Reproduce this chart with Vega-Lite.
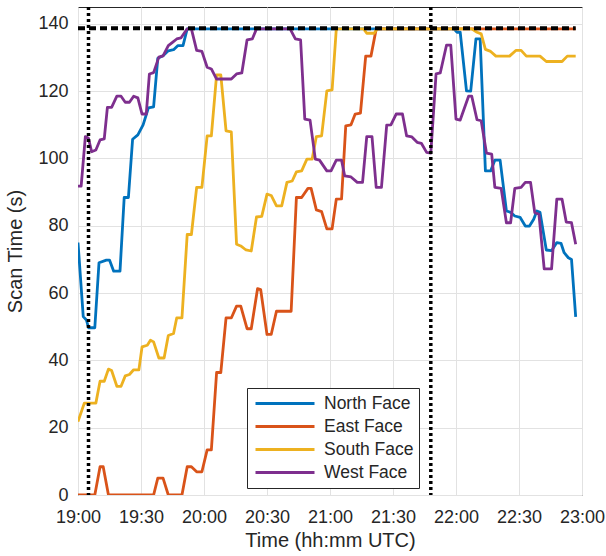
{
  "$schema": "https://vega.github.io/schema/vega-lite/v6.json",
  "width": 504,
  "height": 488,
  "autosize": "none",
  "padding": {"left": 78, "top": 7, "right": 24, "bottom": 61},
  "background": "white",
  "config": {
    "font": "Liberation Sans",
    "view": {"stroke": "#262626", "strokeWidth": 1},
    "axis": {
      "labelFont": "Liberation Sans",
      "titleFont": "Liberation Sans",
      "labelFontSize": 18,
      "titleFontSize": 20,
      "titleFontWeight": "normal",
      "labelColor": "#262626",
      "titleColor": "#262626",
      "gridColor": "#e2e2e2",
      "gridWidth": 1,
      "domain": false,
      "ticks": false
    },
    "legend": {
      "labelFont": "Liberation Sans",
      "labelFontSize": 17.5,
      "labelColor": "#262626"
    }
  },
  "datasets": {
    "series": [
      {"face": "North Face", "time": "2000-01-01T19:00:00", "scan": 75},
      {"face": "North Face", "time": "2000-01-01T19:02:30", "scan": 53},
      {"face": "North Face", "time": "2000-01-01T19:04:00", "scan": 52},
      {"face": "North Face", "time": "2000-01-01T19:05:00", "scan": 49.7},
      {"face": "North Face", "time": "2000-01-01T19:08:00", "scan": 49.7},
      {"face": "North Face", "time": "2000-01-01T19:10:00", "scan": 69},
      {"face": "North Face", "time": "2000-01-01T19:13:30", "scan": 69.8},
      {"face": "North Face", "time": "2000-01-01T19:15:00", "scan": 69.8},
      {"face": "North Face", "time": "2000-01-01T19:17:00", "scan": 66.5},
      {"face": "North Face", "time": "2000-01-01T19:20:00", "scan": 66.5},
      {"face": "North Face", "time": "2000-01-01T19:22:00", "scan": 88.4},
      {"face": "North Face", "time": "2000-01-01T19:24:00", "scan": 88.4},
      {"face": "North Face", "time": "2000-01-01T19:26:00", "scan": 105.7},
      {"face": "North Face", "time": "2000-01-01T19:28:30", "scan": 107},
      {"face": "North Face", "time": "2000-01-01T19:31:00", "scan": 110},
      {"face": "North Face", "time": "2000-01-01T19:33:30", "scan": 115},
      {"face": "North Face", "time": "2000-01-01T19:36:00", "scan": 115.3},
      {"face": "North Face", "time": "2000-01-01T19:38:00", "scan": 129.8},
      {"face": "North Face", "time": "2000-01-01T19:40:30", "scan": 130.5},
      {"face": "North Face", "time": "2000-01-01T19:43:00", "scan": 132},
      {"face": "North Face", "time": "2000-01-01T19:45:30", "scan": 132.3},
      {"face": "North Face", "time": "2000-01-01T19:47:30", "scan": 133.5},
      {"face": "North Face", "time": "2000-01-01T19:50:00", "scan": 133.5},
      {"face": "North Face", "time": "2000-01-01T19:52:00", "scan": 138.5},
      {"face": "North Face", "time": "2000-01-01T21:59:00", "scan": 138.5},
      {"face": "North Face", "time": "2000-01-01T22:00:30", "scan": 137.5},
      {"face": "North Face", "time": "2000-01-01T22:02:00", "scan": 137.5},
      {"face": "North Face", "time": "2000-01-01T22:05:00", "scan": 120.1},
      {"face": "North Face", "time": "2000-01-01T22:07:00", "scan": 120},
      {"face": "North Face", "time": "2000-01-01T22:09:30", "scan": 135.5},
      {"face": "North Face", "time": "2000-01-01T22:11:30", "scan": 135.5},
      {"face": "North Face", "time": "2000-01-01T22:14:00", "scan": 96.3},
      {"face": "North Face", "time": "2000-01-01T22:16:30", "scan": 96.3},
      {"face": "North Face", "time": "2000-01-01T22:18:30", "scan": 99.5},
      {"face": "North Face", "time": "2000-01-01T22:21:00", "scan": 99.5},
      {"face": "North Face", "time": "2000-01-01T22:24:00", "scan": 84.4},
      {"face": "North Face", "time": "2000-01-01T22:26:00", "scan": 84},
      {"face": "North Face", "time": "2000-01-01T22:28:00", "scan": 82.9},
      {"face": "North Face", "time": "2000-01-01T22:30:30", "scan": 82.5},
      {"face": "North Face", "time": "2000-01-01T22:33:00", "scan": 79.9},
      {"face": "North Face", "time": "2000-01-01T22:35:00", "scan": 79.9},
      {"face": "North Face", "time": "2000-01-01T22:37:00", "scan": 81.9},
      {"face": "North Face", "time": "2000-01-01T22:38:30", "scan": 84.4},
      {"face": "North Face", "time": "2000-01-01T22:40:00", "scan": 84},
      {"face": "North Face", "time": "2000-01-01T22:43:00", "scan": 72.8},
      {"face": "North Face", "time": "2000-01-01T22:45:30", "scan": 72.6},
      {"face": "North Face", "time": "2000-01-01T22:48:00", "scan": 75},
      {"face": "North Face", "time": "2000-01-01T22:50:00", "scan": 74.8},
      {"face": "North Face", "time": "2000-01-01T22:51:30", "scan": 72},
      {"face": "North Face", "time": "2000-01-01T22:53:30", "scan": 70.5},
      {"face": "North Face", "time": "2000-01-01T22:55:00", "scan": 70},
      {"face": "North Face", "time": "2000-01-01T22:57:00", "scan": 52.9},

      {"face": "East Face", "time": "2000-01-01T19:00:00", "scan": 0},
      {"face": "East Face", "time": "2000-01-01T19:08:00", "scan": 0},
      {"face": "East Face", "time": "2000-01-01T19:10:30", "scan": 8.4},
      {"face": "East Face", "time": "2000-01-01T19:12:00", "scan": 8.4},
      {"face": "East Face", "time": "2000-01-01T19:14:30", "scan": 0},
      {"face": "East Face", "time": "2000-01-01T19:36:00", "scan": 0},
      {"face": "East Face", "time": "2000-01-01T19:38:00", "scan": 5},
      {"face": "East Face", "time": "2000-01-01T19:40:30", "scan": 5},
      {"face": "East Face", "time": "2000-01-01T19:43:00", "scan": 0},
      {"face": "East Face", "time": "2000-01-01T19:49:30", "scan": 0},
      {"face": "East Face", "time": "2000-01-01T19:52:00", "scan": 8.4},
      {"face": "East Face", "time": "2000-01-01T19:54:00", "scan": 8.4},
      {"face": "East Face", "time": "2000-01-01T19:56:30", "scan": 6.9},
      {"face": "East Face", "time": "2000-01-01T19:59:00", "scan": 6.9},
      {"face": "East Face", "time": "2000-01-01T20:01:30", "scan": 13.4},
      {"face": "East Face", "time": "2000-01-01T20:03:30", "scan": 13.4},
      {"face": "East Face", "time": "2000-01-01T20:06:00", "scan": 36.4},
      {"face": "East Face", "time": "2000-01-01T20:08:00", "scan": 36.4},
      {"face": "East Face", "time": "2000-01-01T20:10:30", "scan": 52.6},
      {"face": "East Face", "time": "2000-01-01T20:13:00", "scan": 52.6},
      {"face": "East Face", "time": "2000-01-01T20:15:30", "scan": 56.1},
      {"face": "East Face", "time": "2000-01-01T20:17:30", "scan": 56.1},
      {"face": "East Face", "time": "2000-01-01T20:20:30", "scan": 49.4},
      {"face": "East Face", "time": "2000-01-01T20:22:30", "scan": 49.4},
      {"face": "East Face", "time": "2000-01-01T20:25:30", "scan": 61.3},
      {"face": "East Face", "time": "2000-01-01T20:27:00", "scan": 61},
      {"face": "East Face", "time": "2000-01-01T20:30:00", "scan": 47.7},
      {"face": "East Face", "time": "2000-01-01T20:32:00", "scan": 47.7},
      {"face": "East Face", "time": "2000-01-01T20:34:30", "scan": 54.6},
      {"face": "East Face", "time": "2000-01-01T20:41:30", "scan": 54.6},
      {"face": "East Face", "time": "2000-01-01T20:44:00", "scan": 88.4},
      {"face": "East Face", "time": "2000-01-01T20:46:30", "scan": 88.4},
      {"face": "East Face", "time": "2000-01-01T20:49:30", "scan": 91.1},
      {"face": "East Face", "time": "2000-01-01T20:51:00", "scan": 91.1},
      {"face": "East Face", "time": "2000-01-01T20:53:30", "scan": 84.7},
      {"face": "East Face", "time": "2000-01-01T20:56:00", "scan": 84.2},
      {"face": "East Face", "time": "2000-01-01T20:58:30", "scan": 79.1},
      {"face": "East Face", "time": "2000-01-01T21:01:00", "scan": 79.1},
      {"face": "East Face", "time": "2000-01-01T21:03:00", "scan": 87.9},
      {"face": "East Face", "time": "2000-01-01T21:05:30", "scan": 88},
      {"face": "East Face", "time": "2000-01-01T21:07:30", "scan": 109.7},
      {"face": "East Face", "time": "2000-01-01T21:10:00", "scan": 110},
      {"face": "East Face", "time": "2000-01-01T21:12:00", "scan": 113.2},
      {"face": "East Face", "time": "2000-01-01T21:14:30", "scan": 113.5},
      {"face": "East Face", "time": "2000-01-01T21:17:00", "scan": 130.4},
      {"face": "East Face", "time": "2000-01-01T21:19:30", "scan": 130.4},
      {"face": "East Face", "time": "2000-01-01T21:22:00", "scan": 138.5},
      {"face": "East Face", "time": "2000-01-01T22:57:00", "scan": 138.5},

      {"face": "South Face", "time": "2000-01-01T19:00:00", "scan": 21.8},
      {"face": "South Face", "time": "2000-01-01T19:03:00", "scan": 27.3},
      {"face": "South Face", "time": "2000-01-01T19:08:30", "scan": 27.3},
      {"face": "South Face", "time": "2000-01-01T19:10:30", "scan": 33.8},
      {"face": "South Face", "time": "2000-01-01T19:12:30", "scan": 33.8},
      {"face": "South Face", "time": "2000-01-01T19:14:30", "scan": 37.4},
      {"face": "South Face", "time": "2000-01-01T19:16:00", "scan": 37},
      {"face": "South Face", "time": "2000-01-01T19:18:30", "scan": 32.3},
      {"face": "South Face", "time": "2000-01-01T19:20:30", "scan": 32.3},
      {"face": "South Face", "time": "2000-01-01T19:22:30", "scan": 35.4},
      {"face": "South Face", "time": "2000-01-01T19:24:30", "scan": 35.8},
      {"face": "South Face", "time": "2000-01-01T19:26:30", "scan": 37.2},
      {"face": "South Face", "time": "2000-01-01T19:29:00", "scan": 37.2},
      {"face": "South Face", "time": "2000-01-01T19:30:30", "scan": 44},
      {"face": "South Face", "time": "2000-01-01T19:33:00", "scan": 44.5},
      {"face": "South Face", "time": "2000-01-01T19:34:30", "scan": 46},
      {"face": "South Face", "time": "2000-01-01T19:36:00", "scan": 45.5},
      {"face": "South Face", "time": "2000-01-01T19:38:30", "scan": 40.7},
      {"face": "South Face", "time": "2000-01-01T19:41:00", "scan": 40.7},
      {"face": "South Face", "time": "2000-01-01T19:43:00", "scan": 47.4},
      {"face": "South Face", "time": "2000-01-01T19:45:30", "scan": 48},
      {"face": "South Face", "time": "2000-01-01T19:47:00", "scan": 52.6},
      {"face": "South Face", "time": "2000-01-01T19:49:30", "scan": 52.6},
      {"face": "South Face", "time": "2000-01-01T19:52:00", "scan": 77.4},
      {"face": "South Face", "time": "2000-01-01T19:54:00", "scan": 77.4},
      {"face": "South Face", "time": "2000-01-01T19:56:30", "scan": 91.4},
      {"face": "South Face", "time": "2000-01-01T19:59:00", "scan": 91.4},
      {"face": "South Face", "time": "2000-01-01T20:01:30", "scan": 106.7},
      {"face": "South Face", "time": "2000-01-01T20:03:30", "scan": 106.7},
      {"face": "South Face", "time": "2000-01-01T20:06:00", "scan": 124.8},
      {"face": "South Face", "time": "2000-01-01T20:08:00", "scan": 124.8},
      {"face": "South Face", "time": "2000-01-01T20:10:30", "scan": 108.2},
      {"face": "South Face", "time": "2000-01-01T20:13:00", "scan": 107.9},
      {"face": "South Face", "time": "2000-01-01T20:15:30", "scan": 74.5},
      {"face": "South Face", "time": "2000-01-01T20:17:30", "scan": 74},
      {"face": "South Face", "time": "2000-01-01T20:20:00", "scan": 72.8},
      {"face": "South Face", "time": "2000-01-01T20:22:30", "scan": 72.5},
      {"face": "South Face", "time": "2000-01-01T20:25:00", "scan": 82.6},
      {"face": "South Face", "time": "2000-01-01T20:27:30", "scan": 82.8},
      {"face": "South Face", "time": "2000-01-01T20:30:00", "scan": 89.4},
      {"face": "South Face", "time": "2000-01-01T20:32:00", "scan": 89},
      {"face": "South Face", "time": "2000-01-01T20:34:30", "scan": 85.9},
      {"face": "South Face", "time": "2000-01-01T20:37:00", "scan": 85.9},
      {"face": "South Face", "time": "2000-01-01T20:39:30", "scan": 92.9},
      {"face": "South Face", "time": "2000-01-01T20:42:00", "scan": 93.3},
      {"face": "South Face", "time": "2000-01-01T20:44:00", "scan": 96},
      {"face": "South Face", "time": "2000-01-01T20:46:30", "scan": 96.3},
      {"face": "South Face", "time": "2000-01-01T20:49:00", "scan": 99.8},
      {"face": "South Face", "time": "2000-01-01T20:51:30", "scan": 99.8},
      {"face": "South Face", "time": "2000-01-01T20:53:30", "scan": 106.5},
      {"face": "South Face", "time": "2000-01-01T20:56:00", "scan": 106.7},
      {"face": "South Face", "time": "2000-01-01T20:58:30", "scan": 120.1},
      {"face": "South Face", "time": "2000-01-01T21:01:00", "scan": 120.4},
      {"face": "South Face", "time": "2000-01-01T21:03:00", "scan": 138.5},
      {"face": "South Face", "time": "2000-01-01T21:16:00", "scan": 138.5},
      {"face": "South Face", "time": "2000-01-01T21:17:30", "scan": 137.2},
      {"face": "South Face", "time": "2000-01-01T21:21:00", "scan": 137.2},
      {"face": "South Face", "time": "2000-01-01T21:22:30", "scan": 138.5},
      {"face": "South Face", "time": "2000-01-01T22:07:30", "scan": 138.5},
      {"face": "South Face", "time": "2000-01-01T22:10:00", "scan": 137.5},
      {"face": "South Face", "time": "2000-01-01T22:12:00", "scan": 137},
      {"face": "South Face", "time": "2000-01-01T22:14:00", "scan": 132.4},
      {"face": "South Face", "time": "2000-01-01T22:16:30", "scan": 131.8},
      {"face": "South Face", "time": "2000-01-01T22:19:00", "scan": 130.4},
      {"face": "South Face", "time": "2000-01-01T22:25:30", "scan": 130.4},
      {"face": "South Face", "time": "2000-01-01T22:28:30", "scan": 132.1},
      {"face": "South Face", "time": "2000-01-01T22:31:00", "scan": 132.1},
      {"face": "South Face", "time": "2000-01-01T22:33:30", "scan": 130.4},
      {"face": "South Face", "time": "2000-01-01T22:40:00", "scan": 130.4},
      {"face": "South Face", "time": "2000-01-01T22:43:00", "scan": 128.8},
      {"face": "South Face", "time": "2000-01-01T22:50:30", "scan": 128.8},
      {"face": "South Face", "time": "2000-01-01T22:53:00", "scan": 130.4},
      {"face": "South Face", "time": "2000-01-01T22:57:00", "scan": 130.4},

      {"face": "West Face", "time": "2000-01-01T19:00:00", "scan": 91.8},
      {"face": "West Face", "time": "2000-01-01T19:01:30", "scan": 91.8},
      {"face": "West Face", "time": "2000-01-01T19:03:30", "scan": 106.5},
      {"face": "West Face", "time": "2000-01-01T19:05:00", "scan": 106},
      {"face": "West Face", "time": "2000-01-01T19:06:30", "scan": 102},
      {"face": "West Face", "time": "2000-01-01T19:08:30", "scan": 102.5},
      {"face": "West Face", "time": "2000-01-01T19:10:30", "scan": 105.5},
      {"face": "West Face", "time": "2000-01-01T19:12:30", "scan": 105.8},
      {"face": "West Face", "time": "2000-01-01T19:14:00", "scan": 115.2},
      {"face": "West Face", "time": "2000-01-01T19:16:00", "scan": 115.2},
      {"face": "West Face", "time": "2000-01-01T19:18:30", "scan": 118.5},
      {"face": "West Face", "time": "2000-01-01T19:20:30", "scan": 118.5},
      {"face": "West Face", "time": "2000-01-01T19:22:30", "scan": 116.7},
      {"face": "West Face", "time": "2000-01-01T19:24:30", "scan": 116.7},
      {"face": "West Face", "time": "2000-01-01T19:26:30", "scan": 118.5},
      {"face": "West Face", "time": "2000-01-01T19:28:30", "scan": 118},
      {"face": "West Face", "time": "2000-01-01T19:30:30", "scan": 113.2},
      {"face": "West Face", "time": "2000-01-01T19:32:30", "scan": 113.2},
      {"face": "West Face", "time": "2000-01-01T19:34:00", "scan": 125.1},
      {"face": "West Face", "time": "2000-01-01T19:36:00", "scan": 125.5},
      {"face": "West Face", "time": "2000-01-01T19:38:30", "scan": 130.1},
      {"face": "West Face", "time": "2000-01-01T19:40:30", "scan": 130.5},
      {"face": "West Face", "time": "2000-01-01T19:43:00", "scan": 133.5},
      {"face": "West Face", "time": "2000-01-01T19:45:00", "scan": 134.5},
      {"face": "West Face", "time": "2000-01-01T19:47:00", "scan": 135.5},
      {"face": "West Face", "time": "2000-01-01T19:49:00", "scan": 135.8},
      {"face": "West Face", "time": "2000-01-01T19:52:00", "scan": 138.5},
      {"face": "West Face", "time": "2000-01-01T19:54:00", "scan": 138.5},
      {"face": "West Face", "time": "2000-01-01T19:56:30", "scan": 132.1},
      {"face": "West Face", "time": "2000-01-01T19:59:00", "scan": 131.8},
      {"face": "West Face", "time": "2000-01-01T20:01:30", "scan": 127.1},
      {"face": "West Face", "time": "2000-01-01T20:03:30", "scan": 126.6},
      {"face": "West Face", "time": "2000-01-01T20:06:00", "scan": 123.6},
      {"face": "West Face", "time": "2000-01-01T20:13:00", "scan": 123.6},
      {"face": "West Face", "time": "2000-01-01T20:15:30", "scan": 125.1},
      {"face": "West Face", "time": "2000-01-01T20:18:00", "scan": 125.4},
      {"face": "West Face", "time": "2000-01-01T20:20:30", "scan": 135.2},
      {"face": "West Face", "time": "2000-01-01T20:23:00", "scan": 135.5},
      {"face": "West Face", "time": "2000-01-01T20:25:00", "scan": 138.5},
      {"face": "West Face", "time": "2000-01-01T20:41:00", "scan": 138.5},
      {"face": "West Face", "time": "2000-01-01T20:43:30", "scan": 135.5},
      {"face": "West Face", "time": "2000-01-01T20:46:00", "scan": 135.2},
      {"face": "West Face", "time": "2000-01-01T20:48:00", "scan": 111.7},
      {"face": "West Face", "time": "2000-01-01T20:50:30", "scan": 111.4},
      {"face": "West Face", "time": "2000-01-01T20:53:00", "scan": 99.8},
      {"face": "West Face", "time": "2000-01-01T20:55:00", "scan": 99.5},
      {"face": "West Face", "time": "2000-01-01T20:58:30", "scan": 96.3},
      {"face": "West Face", "time": "2000-01-01T21:00:30", "scan": 96.3},
      {"face": "West Face", "time": "2000-01-01T21:03:00", "scan": 99.5},
      {"face": "West Face", "time": "2000-01-01T21:05:30", "scan": 99.5},
      {"face": "West Face", "time": "2000-01-01T21:07:00", "scan": 94.8},
      {"face": "West Face", "time": "2000-01-01T21:10:00", "scan": 94.5},
      {"face": "West Face", "time": "2000-01-01T21:13:00", "scan": 92.9},
      {"face": "West Face", "time": "2000-01-01T21:15:30", "scan": 92.9},
      {"face": "West Face", "time": "2000-01-01T21:17:30", "scan": 106.5},
      {"face": "West Face", "time": "2000-01-01T21:20:00", "scan": 106.5},
      {"face": "West Face", "time": "2000-01-01T21:22:00", "scan": 91.4},
      {"face": "West Face", "time": "2000-01-01T21:24:30", "scan": 91.4},
      {"face": "West Face", "time": "2000-01-01T21:27:00", "scan": 109.9},
      {"face": "West Face", "time": "2000-01-01T21:29:00", "scan": 110},
      {"face": "West Face", "time": "2000-01-01T21:31:30", "scan": 113.2},
      {"face": "West Face", "time": "2000-01-01T21:34:30", "scan": 113.2},
      {"face": "West Face", "time": "2000-01-01T21:36:30", "scan": 106.7},
      {"face": "West Face", "time": "2000-01-01T21:39:00", "scan": 106.4},
      {"face": "West Face", "time": "2000-01-01T21:41:30", "scan": 104.8},
      {"face": "West Face", "time": "2000-01-01T21:43:30", "scan": 104.5},
      {"face": "West Face", "time": "2000-01-01T21:46:00", "scan": 101.8},
      {"face": "West Face", "time": "2000-01-01T21:48:00", "scan": 101.6},
      {"face": "West Face", "time": "2000-01-01T21:50:30", "scan": 125.1},
      {"face": "West Face", "time": "2000-01-01T21:52:30", "scan": 125.4},
      {"face": "West Face", "time": "2000-01-01T21:55:30", "scan": 133.7},
      {"face": "West Face", "time": "2000-01-01T21:57:30", "scan": 133.7},
      {"face": "West Face", "time": "2000-01-01T22:00:00", "scan": 111.7},
      {"face": "West Face", "time": "2000-01-01T22:02:00", "scan": 111.4},
      {"face": "West Face", "time": "2000-01-01T22:06:00", "scan": 118.5},
      {"face": "West Face", "time": "2000-01-01T22:07:30", "scan": 118.5},
      {"face": "West Face", "time": "2000-01-01T22:10:00", "scan": 111.5},
      {"face": "West Face", "time": "2000-01-01T22:12:00", "scan": 111.2},
      {"face": "West Face", "time": "2000-01-01T22:14:30", "scan": 101.6},
      {"face": "West Face", "time": "2000-01-01T22:17:00", "scan": 101.3},
      {"face": "West Face", "time": "2000-01-01T22:18:30", "scan": 91.4},
      {"face": "West Face", "time": "2000-01-01T22:21:30", "scan": 91.1},
      {"face": "West Face", "time": "2000-01-01T22:24:00", "scan": 80.9},
      {"face": "West Face", "time": "2000-01-01T22:26:00", "scan": 80.9},
      {"face": "West Face", "time": "2000-01-01T22:28:00", "scan": 91.1},
      {"face": "West Face", "time": "2000-01-01T22:31:00", "scan": 91.4},
      {"face": "West Face", "time": "2000-01-01T22:33:00", "scan": 92.9},
      {"face": "West Face", "time": "2000-01-01T22:35:30", "scan": 92.9},
      {"face": "West Face", "time": "2000-01-01T22:37:30", "scan": 83.9},
      {"face": "West Face", "time": "2000-01-01T22:39:30", "scan": 83.4},
      {"face": "West Face", "time": "2000-01-01T22:42:00", "scan": 67.2},
      {"face": "West Face", "time": "2000-01-01T22:45:30", "scan": 67.2},
      {"face": "West Face", "time": "2000-01-01T22:48:00", "scan": 87.9},
      {"face": "West Face", "time": "2000-01-01T22:50:30", "scan": 87.9},
      {"face": "West Face", "time": "2000-01-01T22:52:30", "scan": 81.1},
      {"face": "West Face", "time": "2000-01-01T22:55:00", "scan": 80.9},
      {"face": "West Face", "time": "2000-01-01T22:57:00", "scan": 74.5}
    ],
    "hline": [
      {"start": "2000-01-01T19:00:00", "end": "2000-01-01T22:57:00", "scan": 138.7}
    ],
    "vlines": [
      {"time": "2000-01-01T19:05:00"},
      {"time": "2000-01-01T21:48:00"}
    ]
  },
  "layer": [
    {
      "data": {"name": "series"},
      "mark": {"type": "line", "strokeWidth": 2.8, "clip": true, "strokeJoin": "round"},
      "encoding": {
        "x": {
          "field": "time",
          "type": "temporal",
          "scale": {
            "domain": [
              {"year": 2000, "month": 1, "date": 1, "hours": 19, "minutes": 0},
              {"year": 2000, "month": 1, "date": 1, "hours": 23, "minutes": 0}
            ]
          },
          "axis": {
            "title": "Time (hh:mm UTC)",
            "format": "%H:%M",
            "labelPadding": 13,
            "titlePadding": 4,
            "labelOverlap": false,
            "labelFlush": false,
            "values": [
              {"year": 2000, "month": 1, "date": 1, "hours": 19, "minutes": 0},
              {"year": 2000, "month": 1, "date": 1, "hours": 19, "minutes": 30},
              {"year": 2000, "month": 1, "date": 1, "hours": 20, "minutes": 0},
              {"year": 2000, "month": 1, "date": 1, "hours": 20, "minutes": 30},
              {"year": 2000, "month": 1, "date": 1, "hours": 21, "minutes": 0},
              {"year": 2000, "month": 1, "date": 1, "hours": 21, "minutes": 30},
              {"year": 2000, "month": 1, "date": 1, "hours": 22, "minutes": 0},
              {"year": 2000, "month": 1, "date": 1, "hours": 22, "minutes": 30},
              {"year": 2000, "month": 1, "date": 1, "hours": 23, "minutes": 0}
            ]
          }
        },
        "y": {
          "field": "scan",
          "type": "quantitative",
          "scale": {"domain": [0, 145], "nice": false},
          "axis": {
            "title": "Scan Time (s)",
            "values": [0, 20, 40, 60, 80, 100, 120, 140],
            "labelPadding": 10,
            "titlePadding": 12,
            "labelFlush": false
          }
        },
        "color": {
          "field": "face",
          "type": "nominal",
          "scale": {
            "domain": ["North Face", "East Face", "South Face", "West Face"],
            "range": ["#0072BD", "#D95319", "#EDB120", "#7E2F8E"]
          },
          "legend": {
            "title": null,
            "orient": "none",
            "legendX": 169,
            "legendY": 381,
            "symbolType": "stroke",
            "symbolSize": 3481,
            "symbolStrokeWidth": 2.8,
            "clipHeight": 21,
            "rowPadding": 2,
            "padding": 5,
            "symbolOffset": 2,
            "labelOffset": 8,
            "strokeColor": "#262626",
            "fillColor": "white"
          }
        },
        "order": {"field": "time", "type": "temporal"}
      }
    },
    {
      "data": {"name": "hline"},
      "mark": {"type": "rule", "color": "black", "strokeWidth": 4, "strokeDash": [7, 4]},
      "encoding": {
        "x": {"field": "start", "type": "temporal"},
        "x2": {"field": "end"},
        "y": {"field": "scan", "type": "quantitative"}
      }
    },
    {
      "data": {"name": "vlines"},
      "mark": {"type": "rule", "color": "black", "strokeWidth": 3.5, "strokeDash": [3, 3]},
      "encoding": {
        "x": {"field": "time", "type": "temporal"}
      }
    }
  ]
}
